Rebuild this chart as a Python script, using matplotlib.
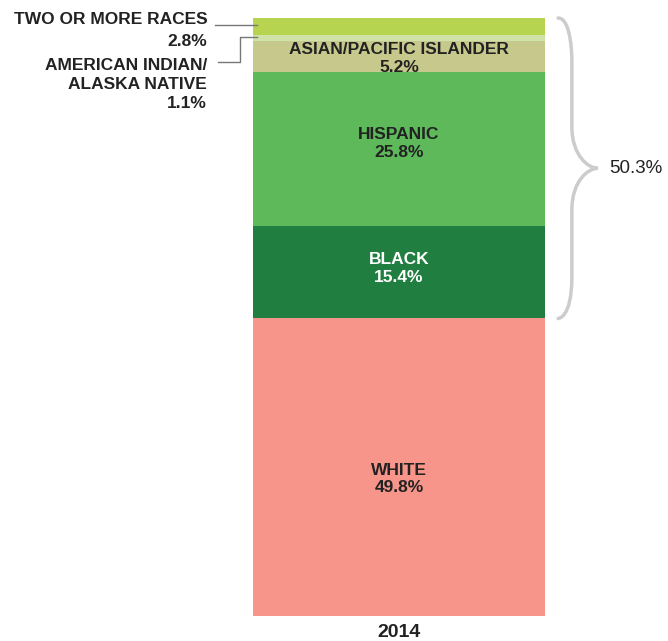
import matplotlib
matplotlib.use("Agg")
import matplotlib.pyplot as plt
from matplotlib.path import Path
from matplotlib.patches import PathPatch
from matplotlib.transforms import blended_transform_factory

plt.rcParams["font.family"] = ["Liberation Sans", "DejaVu Sans"]
plt.rcParams["font.weight"] = "bold"

# ---- data (top of bar to bottom) ----
groups = ["TWO OR MORE RACES", "AMERICAN INDIAN/\nALASKA NATIVE", "ASIAN/PACIFIC ISLANDER",
          "HISPANIC", "BLACK", "WHITE"]
shares = [2.8, 1.1, 5.2, 25.8, 15.4, 49.8]
colors = ["#b6d450", "#cfe3a8", "#c7c98c", "#5db95a", "#1f7e40", "#f7958b"]
text_colors = ["#222222", "#222222", "#222222", "#222222", "#ffffff", "#222222"]
label_shift = [0, 0, 0.3, -1.0, -0.7, 2.0]   # nudge of in-bar labels (data units)
year = "2014"
minority_total = "50.3%"

W, H = 668, 641
fig = plt.figure(figsize=(W / 100, H / 100), dpi=100)
# bar area: x 253..545, y 18..616 (pixels from top)
ax = fig.add_axes([253 / W, 1 - 616 / H, 292 / W, 598 / H])
total = sum(shares)
ax.set_xlim(0, 1)
ax.set_ylim(total, 0)
ax.axis("off")

bottoms = []
acc = 0
for s in shares:
    bottoms.append(acc)
    acc += s
ax.bar([0.5] * len(shares), shares, width=1.0, bottom=bottoms, color=colors, linewidth=0)

# labels inside the bar (skip the two thin ones)
for i, (g, s, b) in enumerate(zip(groups, shares, bottoms)):
    if i < 2:
        continue
    ax.text(0.5, b + s / 2 + label_shift[i], f"{g}\n{s:.1f}%", ha="center", va="center",
            fontsize=12.5, fontweight="bold", color=text_colors[i], linespacing=1.2)

# outside labels with leader lines
tr = blended_transform_factory(ax.transAxes, ax.transData)
ax.text(-0.157, -1.0, f"{groups[0]}\n{shares[0]:.1f}%", transform=tr, ha="right", va="top",
        multialignment="right", fontsize=12.5, fontweight="bold", color="#222222", linespacing=1.6)
ax.text(-0.157, 6.7, f"{groups[1]}\n{shares[1]:.1f}%", transform=tr, ha="right", va="top",
        multialignment="right", fontsize=12.5, fontweight="bold", color="#222222", linespacing=1.35)
ax.plot([-0.13, 0.015], [1.2, 1.2], transform=tr, color="#777777", lw=1.0, clip_on=False)
ax.plot([-0.12, -0.045, -0.045, 0.015], [7.4, 7.4, 3.25, 3.25], transform=tr,
        color="#777777", lw=1.0, clip_on=False)

# brace spanning non-white groups
y0, y1 = 0.0, total - shares[-1]
ym = (y0 + y1) / 2
x0, xm, xt = 1.045, 1.092, 1.18
d = 7.0
verts = [(x0, y0), (xm, y0), (xm, y0 + d), (xm, y0 + d),
         (xm, ym - d),
         (xm, ym - 2), (xt - 0.03, ym), (xt, ym),
         (xt - 0.03, ym), (xm, ym + 2), (xm, ym + d),
         (xm, y1 - d),
         (xm, y1), (x0, y1), (x0, y1)]
codes = [Path.MOVETO, Path.CURVE4, Path.CURVE4, Path.CURVE4,
         Path.LINETO,
         Path.CURVE4, Path.CURVE4, Path.CURVE4,
         Path.CURVE4, Path.CURVE4, Path.CURVE4,
         Path.LINETO,
         Path.CURVE4, Path.CURVE4, Path.CURVE4]
ax.add_patch(PathPatch(Path(verts, codes), transform=tr, facecolor="none",
                       edgecolor="#cccccc", lw=2.5, clip_on=False, capstyle="round"))
ax.text(1.22, ym, minority_total, transform=tr, ha="left", va="center", fontsize=13.5,
        fontweight="normal", color="#222222")

ax.text(0.5, total + 2.7, year, transform=tr, ha="center", va="center", fontsize=14,
        fontweight="bold", color="#222222")

fig.savefig("out.png", dpi=100)
